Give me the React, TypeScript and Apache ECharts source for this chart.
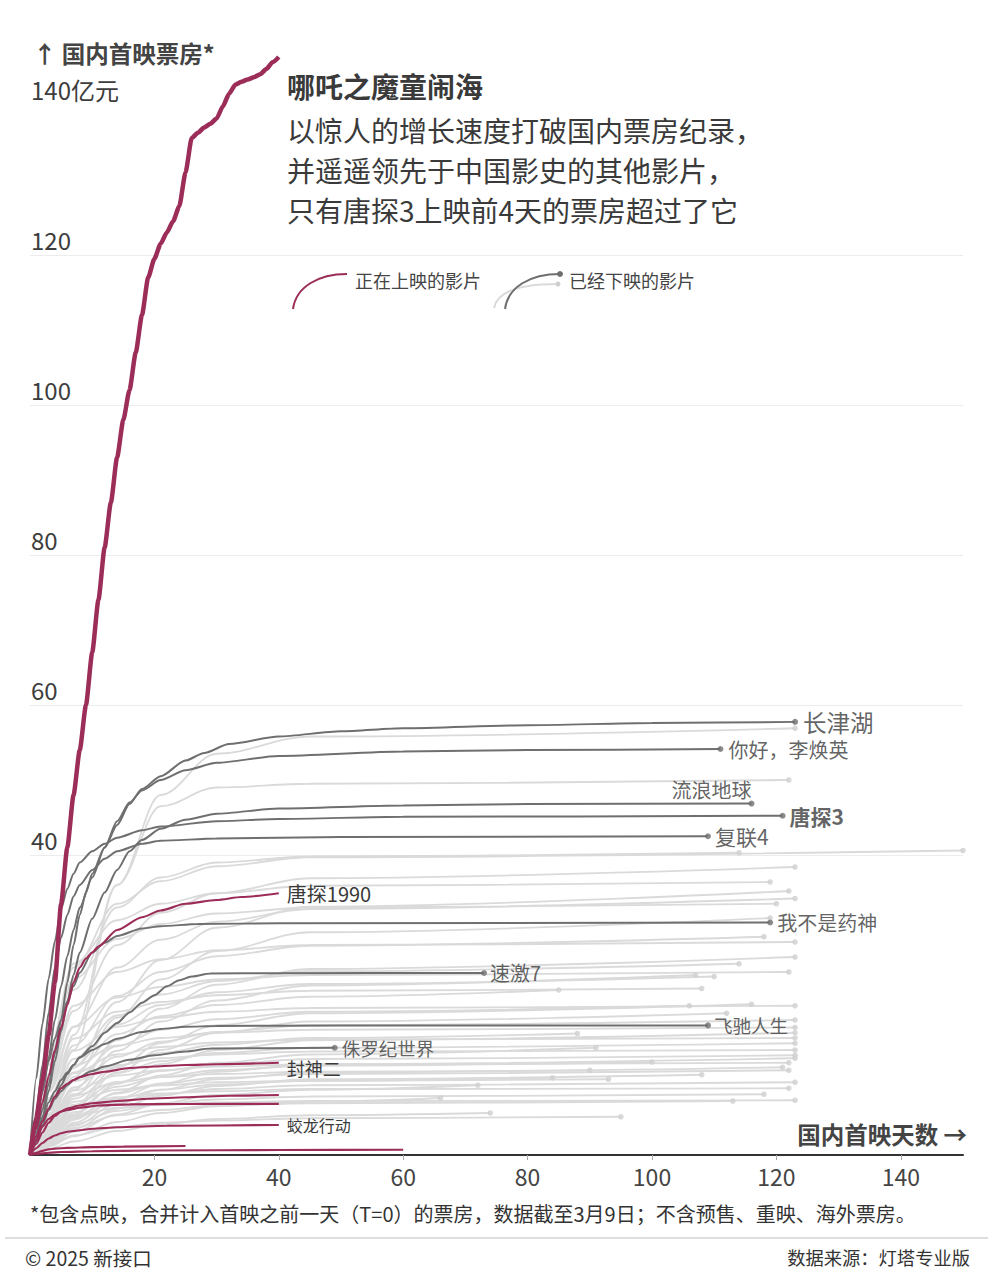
import React, { useEffect, useRef } from "react";
import * as echarts from "echarts";

const FONT = '"Noto Sans CJK SC", "Noto Sans", sans-serif';
const RED = "#9b2d58";
const DARK = "#6f6f6f";
const LIGHT = "#dadada";
const LIGHT_DOT = "#cfcfcf";
const TEXT = "#3a3a3a";

const X_TICKS = [20, 40, 60, 80, 100, 120, 140];
const Y_TICKS = [20, 40, 60, 80, 100, 120, 140];
const Y_LABELS = [40, 60, 80, 100, 120, 140];

// 哪吒之魔童闹海: cumulative box office by day (day 0..40)
const nezha2 = [0, 5, 10, 16, 23, 33.5, 41, 48, 54, 60, 67, 74, 81, 87, 93, 98, 102, 107, 112, 117, 119.5, 121.5, 123, 124.5, 126.5, 131, 135.6, 136.3, 137, 137.5, 138.2, 139.8, 141.5, 142.7, 143.1, 143.4, 143.7, 144.1, 144.8, 145.7, 146.4];

// labelled films already out of cinemas: [day, 亿元]
const changjinhu: [number, number][] = [[0, 0], [1, 4], [2, 8.5], [3, 13], [4, 18], [5, 22.5], [6, 26.5], [7, 30], [8, 33], [10, 37], [12, 41], [14, 44], [16, 46.8], [18, 48.8], [21, 50.5], [25, 52.6], [28, 53.6], [32, 54.8], [40, 55.8], [50, 56.5], [60, 56.9], [80, 57.3], [100, 57.6], [123, 57.75]];
const lihuanying: [number, number][] = [[0, 0], [1, 3], [2, 6], [3, 9.5], [4, 13.5], [5, 18], [6, 23], [7, 28], [8, 32], [9, 35], [10, 37.5], [12, 41], [14, 44.5], [16, 47], [18, 48.6], [21, 50], [25, 51.3], [30, 52.3], [40, 53.2], [60, 53.8], [80, 54.0], [111, 54.13]];
const liulangdiqiu: [number, number][] = [[0, 0], [1, 2], [2, 5], [3, 8.5], [4, 12.5], [5, 16.5], [6, 20.5], [7, 24], [8, 27], [10, 31.5], [12, 35], [14, 38], [16, 40.5], [18, 42], [21, 43.5], [25, 44.7], [30, 45.5], [40, 46.2], [60, 46.6], [80, 46.8], [116, 46.86]];
const tangtan3: [number, number][] = [[0, 0], [1, 10.2], [2, 17.5], [3, 23.5], [4, 28.5], [5, 32.8], [6, 35.5], [7, 37.5], [8, 39], [10, 40.5], [12, 41.5], [14, 42.3], [18, 43.3], [21, 43.8], [30, 44.5], [40, 44.8], [60, 45.1], [121, 45.23]];
const fulian4: [number, number][] = [[0, 0], [1, 5.5], [2, 12], [3, 19], [4, 25], [5, 29], [6, 32], [7, 34.5], [8, 36], [10, 38], [12, 39.5], [14, 40.5], [18, 41.5], [21, 41.9], [30, 42.2], [50, 42.4], [109, 42.5]];
const yaoshen: [number, number][] = [[0, 0], [1, 4.6], [2, 8.5], [3, 12.5], [4, 15.5], [5, 18], [6, 20.5], [7, 22.5], [8, 24.3], [10, 27], [12, 28.3], [14, 29.2], [18, 30.2], [21, 30.5], [27, 30.8], [40, 30.9], [119, 31.0]];
const suji7: [number, number][] = [[0, 0], [1, 2.5], [2, 5], [3, 7], [4, 8.5], [5, 10], [6, 11], [7, 12], [8, 13], [10, 14.5], [12, 16.3], [14, 17.6], [16, 19], [18, 20.3], [20, 21.3], [22, 22.5], [24, 23.3], [26, 23.8], [29, 24.2], [40, 24.25], [73, 24.27]];
const feichi: [number, number][] = [[0, 0], [1, 1.8], [2, 4], [3, 6], [4, 7.8], [5, 9.3], [6, 10.8], [7, 12], [8, 13], [10, 14], [12, 14.8], [14, 15.5], [18, 16.4], [21, 16.8], [25, 17.1], [30, 17.2], [50, 17.26], [109, 17.28]];
const zhuluoji: [number, number][] = [[0, 0], [1, 2.5], [2, 4.5], [3, 6], [4, 7.5], [5, 8.5], [6, 9.3], [7, 10], [10, 11.2], [12, 11.8], [16, 12.7], [20, 13.3], [25, 13.8], [29, 14.2], [49, 14.3]];

// films now showing: [day, 亿元]
const tangtan1990: [number, number][] = [[0, 0], [1, 3.5], [2, 7], [3, 10.5], [4, 14], [5, 17], [6, 20], [7, 23], [8, 25], [9, 26.2], [10, 27], [11, 27.8], [14, 30], [18, 31.7], [21, 32.6], [25, 33.5], [30, 34], [34, 34.4], [40, 34.9]];
const fengshen2: [number, number][] = [[0, 0], [1, 2.5], [2, 4.5], [3, 6.2], [4, 7.8], [5, 8.9], [6, 9.5], [7, 10], [8, 10.4], [10, 10.8], [12, 11.1], [16, 11.6], [20, 11.8], [25, 12], [30, 12.1], [40, 12.3]];
const nowShowingA: [number, number][] = [[0, 0], [1, 1.5], [2, 3], [3, 4.3], [4, 5.2], [5, 5.8], [6, 6.2], [8, 6.6], [10, 6.9], [14, 7.2], [19, 7.5], [25, 7.7], [32, 7.9], [40, 8.0]];
const nowShowingB: [number, number][] = [[0, 0], [1, 2], [2, 3.8], [3, 4.8], [4, 5.4], [5, 5.8], [6, 6.0], [8, 6.3], [11, 6.6], [16, 6.75], [25, 6.8], [40, 6.82]];
const jiaolong: [number, number][] = [[0, 0], [1, 0.9], [2, 1.6], [3, 2.2], [4, 2.6], [5, 2.9], [6, 3.1], [8, 3.3], [10, 3.5], [14, 3.7], [22, 3.9], [40, 4.0]];
const nowShowingC: [number, number][] = [[0, 0], [1, 0.3], [2, 0.55], [3, 0.75], [4, 0.85], [6, 0.95], [10, 1.05], [15, 1.12], [25, 1.2]];
const nowShowingD: [number, number][] = [[0, 0], [1, 0.15], [3, 0.3], [5, 0.4], [10, 0.5], [20, 0.6], [40, 0.67], [60, 0.7]];

// other released films (grey): values at GREY_DAYS, then at their last day
const GREY_DAYS = [0, 1, 3, 7, 14, 21, 30, 45];
const greyEndDays = [123, 122, 150, 114, 123, 119, 122, 123, 120, 119, 118, 123, 123, 114, 122, 107, 110, 108, 85, 116, 123, 106, 112, 123, 123, 123, 88, 123, 123, 91, 123, 123, 123, 122, 100, 121, 122, 90, 108, 84, 93, 123, 72, 122, 118, 66, 123, 113, 74, 95];
const greyValues = [
  [0, 1.0, 5.0, 16, 36, 48, 53.5, 55.8, 56.9],
  [0, 1.4, 6, 14, 36, 46.5, 49, 49.5, 50.0],
  [0, 4, 12, 25, 33.5, 36.5, 38.5, 39.7, 40.6],
  [0, 2.5, 10, 22, 33, 37, 39, 39.8, 40.3],
  [0, 3.1, 9.6, 19.2, 28.0, 32.3, 34.9, 36.9, 38.4],
  [0, 4.4, 13.8, 25.5, 31.3, 33.5, 34.9, 35.9, 36.4],
  [0, 1.4, 4.9, 11.6, 20.4, 26.0, 30.3, 33.1, 35.2],
  [0, 2.7, 8.6, 17.1, 25.0, 28.7, 31.1, 32.8, 34.2],
  [0, 4.0, 12.7, 23.5, 28.8, 30.8, 32.2, 33.0, 33.5],
  [0, 1.3, 4.4, 10.4, 18.3, 23.4, 27.2, 29.7, 31.6],
  [0, 2.3, 7.3, 14.6, 21.2, 24.4, 26.5, 27.9, 29.1],
  [0, 3.4, 10.8, 19.9, 24.4, 26.1, 27.3, 28.0, 28.4],
  [0, 1.1, 3.7, 8.7, 15.3, 19.5, 22.7, 24.8, 26.4],
  [0, 2.0, 6.4, 12.8, 18.6, 21.4, 23.2, 24.5, 25.5],
  [0, 2.9, 9.3, 17.1, 21.0, 22.4, 23.4, 24.0, 24.4],
  [0, 1.0, 3.4, 7.9, 13.9, 17.8, 20.6, 22.6, 24.0],
  [0, 1.9, 6.0, 11.9, 17.4, 20.0, 21.7, 22.8, 23.8],
  [0, 2.7, 8.4, 15.5, 19.1, 20.4, 21.3, 21.9, 22.2],
  [0, 1.8, 5.5, 11.0, 16.1, 18.5, 20.0, 21.1, 22.0],
  [0, 0.8, 2.8, 6.6, 11.7, 14.9, 17.3, 18.9, 20.1],
  [0, 2.4, 7.6, 13.9, 17.1, 18.3, 19.1, 19.6, 19.9],
  [0, 1.6, 5.0, 10.0, 14.5, 16.7, 18.1, 19.1, 19.9],
  [0, 0.8, 2.6, 6.2, 11.0, 14.0, 16.3, 17.8, 18.9],
  [0, 1.4, 4.5, 9.0, 13.1, 15.1, 16.4, 17.3, 18.0],
  [0, 2.0, 6.5, 11.9, 14.6, 15.6, 16.3, 16.7, 17.0],
  [0, 0.7, 2.3, 5.4, 9.5, 12.1, 14.0, 15.3, 16.3],
  [0, 1.3, 4.1, 8.1, 11.8, 13.6, 14.7, 15.6, 16.2],
  [0, 1.9, 5.9, 10.9, 13.4, 14.4, 15.0, 15.4, 15.6],
  [0, 1.2, 3.7, 7.5, 10.9, 12.5, 13.6, 14.3, 14.9],
  [0, 0.6, 2.0, 4.7, 8.3, 10.6, 12.3, 13.4, 14.3],
  [0, 1.7, 5.3, 9.8, 12.0, 12.9, 13.4, 13.8, 14.0],
  [0, 1.1, 3.3, 6.7, 9.7, 11.2, 12.1, 12.8, 13.3],
  [0, 0.5, 1.8, 4.3, 7.5, 9.5, 11.1, 12.1, 12.9],
  [0, 1.5, 4.7, 8.6, 10.6, 11.3, 11.8, 12.1, 12.3],
  [0, 1.0, 3.1, 6.2, 9.1, 10.4, 11.3, 11.9, 12.4],
  [0, 0.5, 1.6, 3.9, 6.8, 8.7, 10.1, 11.0, 11.7],
  [0, 0.9, 2.8, 5.7, 8.2, 9.5, 10.3, 10.8, 11.3],
  [0, 1.4, 4.3, 7.9, 9.7, 10.4, 10.8, 11.1, 11.3],
  [0, 0.4, 1.5, 3.5, 6.2, 7.9, 9.2, 10.1, 10.7],
  [0, 0.8, 2.6, 5.2, 7.5, 8.7, 9.4, 9.9, 10.3],
  [0, 1.2, 3.8, 7.1, 8.7, 9.3, 9.7, 9.9, 10.1],
  [0, 0.8, 2.4, 4.9, 7.1, 8.1, 8.8, 9.3, 9.7],
  [0, 0.4, 1.3, 3.1, 5.4, 6.9, 8.0, 8.7, 9.3],
  [0, 1.1, 3.4, 6.2, 7.7, 8.2, 8.5, 8.8, 8.9],
  [0, 0.6, 2.0, 4.1, 5.9, 6.8, 7.4, 7.8, 8.1],
  [0, 0.3, 1.1, 2.5, 4.4, 5.6, 6.5, 7.1, 7.6],
  [0, 0.9, 2.8, 5.1, 6.3, 6.7, 7.0, 7.2, 7.3],
  [0, 0.6, 1.8, 3.6, 5.3, 6.0, 6.6, 6.9, 7.2],
  [0, 0.2, 0.8, 1.8, 3.2, 4.1, 4.8, 5.3, 5.6],
  [0, 0.4, 1.3, 2.6, 3.7, 4.3, 4.6, 4.9, 5.1],
];

const DARK_FILMS: { name: string; data: [number, number][]; label: any }[] = [
  { name: "长津湖", data: changjinhu, label: { position: "right", distance: 5, fontSize: 23.5 } },
  { name: "你好，李焕英", data: lihuanying, label: { position: "right", distance: 5, fontSize: 20 } },
  { name: "流浪地球", data: liulangdiqiu, label: { position: "left", distance: 0, offset: [3, -14], fontSize: 20 } },
  { name: "唐探3", data: tangtan3, label: { position: "right", distance: 4, fontSize: 21, fontWeight: "bold" } },
  { name: "复联4", data: fulian4, label: { position: "right", distance: 4, fontSize: 21 } },
  { name: "我不是药神", data: yaoshen, label: { position: "right", distance: 4, fontSize: 20 } },
  { name: "速激7", data: suji7, label: { position: "right", distance: 3, fontSize: 20 } },
  { name: "飞驰人生", data: feichi, label: { position: "right", distance: 3, fontSize: 18.5 } },
  { name: "侏罗纪世界", data: zhuluoji, label: { position: "right", distance: 4, fontSize: 18.5 } },
];

const RED_FILMS: { name: string; data: [number, number][]; label: any }[] = [
  { name: "唐探1990", data: tangtan1990, label: { show: true, fontSize: 20, offset: [0, 0] } },
  { name: "封神二", data: fengshen2, label: { show: true, fontSize: 18, offset: [0, 5] } },
  { name: "a", data: nowShowingA, label: { show: false } },
  { name: "b", data: nowShowingB, label: { show: false } },
  { name: "蛟龙行动", data: jiaolong, label: { show: true, fontSize: 16, offset: [0, 0] } },
  { name: "c", data: nowShowingC, label: { show: false } },
  { name: "d", data: nowShowingD, label: { show: false } },
];

function buildOption(): any {
  const series: any[] = [];
  const greyDots: any[] = [];
  greyValues.forEach((row, i) => {
    const days = [...GREY_DAYS, greyEndDays[i]];
    const data = row.map((v, j) => [days[j], v]);
    series.push({
      type: "line",
      data,
      smooth: 0.35,
      smoothMonotone: "x",
      symbol: "none",
      silent: true,
      z: 2,
      lineStyle: { color: LIGHT, width: 1.8 },
    });
    greyDots.push(data[data.length - 1]);
  });
  series.push({
    type: "scatter",
    data: greyDots,
    symbolSize: 5.5,
    itemStyle: { color: LIGHT_DOT },
    z: 3,
    silent: true,
  });

  DARK_FILMS.forEach((f) => {
    series.push({
      type: "line",
      name: f.name,
      data: f.data,
      smooth: 0.25,
      smoothMonotone: "x",
      symbol: "none",
      silent: true,
      z: 5,
      lineStyle: { color: DARK, width: 2 },
    });
    const last = f.data[f.data.length - 1];
    series.push({
      type: "scatter",
      data: [{ value: last, name: f.name }],
      symbolSize: 6,
      itemStyle: { color: DARK },
      z: 6,
      silent: true,
      label: {
        show: true,
        formatter: f.name,
        color: TEXT,
        fontFamily: FONT,
        ...f.label,
      },
    });
  });

  RED_FILMS.forEach((f) => {
    series.push({
      type: "line",
      name: f.name,
      data: f.data,
      smooth: 0.25,
      smoothMonotone: "x",
      symbol: "none",
      silent: true,
      z: 8,
      lineStyle: { color: RED, width: 2.2 },
      endLabel: {
        show: f.label.show,
        formatter: f.name,
        distance: 8,
        color: TEXT,
        fontFamily: FONT,
        fontSize: f.label.fontSize || 18,
        offset: f.label.offset || [0, 0],
      },
    });
  });

  series.push({
    type: "line",
    name: "哪吒之魔童闹海",
    data: nezha2.map((v, d) => [d, v]),
    smooth: 0.2,
    smoothMonotone: "x",
    symbol: "none",
    silent: true,
    z: 10,
    lineStyle: { color: RED, width: 4.5 },
  });

  const graphic: any[] = [
    {
      type: "text", x: 33, y: 53,
      style: { text: "↑ 国内首映票房*", fill: "#444", font: `bold 23.5px ${FONT}`, align: "left", verticalAlign: "middle" },
    },
    {
      type: "text", x: 967, y: 1134,
      style: { text: "国内首映天数 →", fill: "#444", font: `bold 23.5px ${FONT}`, align: "right", verticalAlign: "middle" },
    },
    {
      type: "text", x: 287, y: 86,
      style: { text: "哪吒之魔童闹海", fill: "#3a3a3a", font: `bold 28px ${FONT}`, align: "left", verticalAlign: "middle" },
    },
    {
      type: "text", x: 287, y: 130,
      style: { text: "以惊人的增长速度打破国内票房纪录，", fill: "#3a3a3a", font: `28px ${FONT}`, align: "left", verticalAlign: "middle" },
    },
    {
      type: "text", x: 287, y: 170,
      style: { text: "并遥遥领先于中国影史的其他影片，", fill: "#3a3a3a", font: `28px ${FONT}`, align: "left", verticalAlign: "middle" },
    },
    {
      type: "text", x: 287, y: 210,
      style: { text: "只有唐探3上映前4天的票房超过了它", fill: "#3a3a3a", font: `28px ${FONT}`, align: "left", verticalAlign: "middle" },
    },
    // legend
    {
      type: "bezierCurve",
      shape: { x1: 293, y1: 309, x2: 347, y2: 274, cpx1: 296, cpy1: 287, cpx2: 318, cpy2: 274 },
      style: { stroke: RED, lineWidth: 2, fill: null },
    },
    {
      type: "text", x: 355, y: 280,
      style: { text: "正在上映的影片", fill: "#444", font: `18px ${FONT}`, align: "left", verticalAlign: "middle" },
    },
    {
      type: "bezierCurve",
      shape: { x1: 494, y1: 308, x2: 558, y2: 284, cpx1: 497, cpy1: 292, cpx2: 520, cpy2: 284 },
      style: { stroke: LIGHT, lineWidth: 2, fill: null },
    },
    { type: "circle", shape: { cx: 558, cy: 284, r: 2.5 }, style: { fill: LIGHT_DOT } },
    {
      type: "bezierCurve",
      shape: { x1: 505, y1: 309, x2: 560, y2: 274, cpx1: 508, cpy1: 287, cpx2: 530, cpy2: 274 },
      style: { stroke: DARK, lineWidth: 2, fill: null },
    },
    { type: "circle", shape: { cx: 560, cy: 274, r: 3 }, style: { fill: DARK } },
    {
      type: "text", x: 569, y: 280,
      style: { text: "已经下映的影片", fill: "#444", font: `18px ${FONT}`, align: "left", verticalAlign: "middle" },
    },
    // footnote and footer
    {
      type: "text", x: 30, y: 1213,
      style: { text: "*包含点映，合并计入首映之前一天（T=0）的票房，数据截至3月9日；不含预售、重映、海外票房。", fill: "#333", font: `20px ${FONT}`, align: "left", verticalAlign: "middle" },
    },
    {
      type: "line",
      shape: { x1: 5, y1: 1238, x2: 988, y2: 1238 },
      style: { stroke: "#bdbdbd", lineWidth: 1 },
    },
    {
      type: "text", x: 25, y: 1257,
      style: { text: "© 2025 新接口", fill: "#333", font: `19.5px ${FONT}`, align: "left", verticalAlign: "middle" },
    },
    {
      type: "text", x: 970, y: 1257,
      style: { text: "数据来源：灯塔专业版", fill: "#333", font: `18.3px ${FONT}`, align: "right", verticalAlign: "middle" },
    },
  ];

  return {
    animation: false,
    backgroundColor: "#ffffff",
    textStyle: { fontFamily: FONT },
    grid: { left: 30, right: 30, top: 30, bottom: 125, containLabel: false, outerBoundsMode: "none" },
    xAxis: {
      type: "value",
      min: 0,
      max: 150,
      interval: 10,
      axisLine: { show: true, lineStyle: { color: "#333", width: 2 } },
      axisTick: { show: true, customValues: X_TICKS, length: 5, lineStyle: { color: "#aaa" } },
      axisLabel: { customValues: X_TICKS, color: "#444", fontSize: 23, margin: 9, fontFamily: FONT },
      splitLine: { show: false },
    },
    yAxis: {
      type: "value",
      min: 0,
      max: 150,
      interval: 10,
      axisLine: { show: false },
      axisTick: { show: false, customValues: Y_TICKS },
      axisLabel: {
        customValues: Y_LABELS,
        inside: true,
        margin: 1,
        color: "#3d3d3d",
        fontSize: 24,
        fontFamily: FONT,
        verticalAlign: "bottom",
        padding: [0, 0, 4, 0],
        formatter: (v: number) => (v === 140 ? "140亿元" : String(v)),
      },
      splitLine: { show: true, showMinLine: false, showMaxLine: false, lineStyle: { color: "#ececec", width: 1 } },
    },
    series,
    graphic,
  };
}

export default function App() {
  const ref = useRef<HTMLDivElement>(null);
  useEffect(() => {
    if (!ref.current) return;
    const chart = echarts.init(ref.current, undefined, { renderer: "svg" });
    chart.setOption(buildOption());
    return () => chart.dispose();
  }, []);
  return (
    <div
      ref={ref}
      style={{ position: "absolute", left: 0, top: 0, width: 993, height: 1280, background: "#fff" }}
    />
  );
}
